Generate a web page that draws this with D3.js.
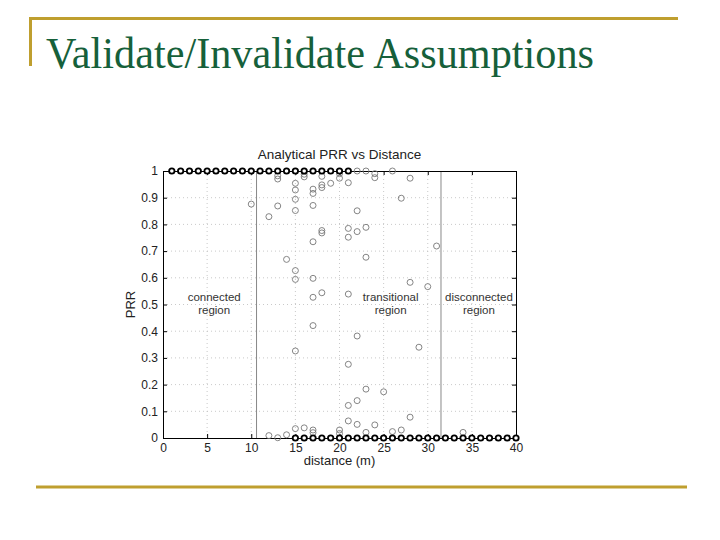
<!DOCTYPE html>
<html><head><meta charset="utf-8">
<script src="https://cdn.jsdelivr.net/npm/d3@7"></script>
<style>
html,body{margin:0;padding:0;background:#fff;}
svg{display:block;}
</style></head>
<body>
<svg id="c" width="720" height="540"></svg>
<script>
const slideTitle = "Validate/Invalidate Assumptions";
const chartTitle = "Analytical PRR vs Distance";
const xLabel = "distance (m)";
const yLabel = "PRR";
const xTicks = [0,5,10,15,20,25,30,35,40];
const yTicks = [0,0.1,0.2,0.3,0.4,0.5,0.6,0.7,0.8,0.9,1];
const regionBounds = [10.6, 31.5];
const regionLabels = [
  {x: 5.8, lines: ["connected","region"]},
  {x: 25.8, lines: ["transitional","region"]},
  {x: 35.8, lines: ["disconnected","region"]}
];
// dark markers (many overlapping nodes)
const topDist = [1,2,3,4,5,6,7,8,9,10,11,12,13,14,15,16,17,18,19,20,21];
const topPrr  = [1,1,1,1,1,1,1,1,1,1,1,1,1,1,1,1,1,1,1,1,1];
const botDist = [15,16,17,18,19,20,21,22,23,24,25,26,27,28,29,30,31,32,33,34,35,36,37,38,39,40];
const botPrr  = [0,0,0,0,0,0,0,0,0,0,0,0,0,0,0,0,0,0,0,0,0,0,0,0,0,0];
// light markers (transitional scatter)
const grayDist = [10,12,12,13,13,13,13,14,14,
  15,15,15,15,15,15,15,15,16,16,16,
  17,17,17,17,17,17,17,17,17,18,18,18,18,18,18,19,
  20,20,20,20,21,21,21,21,21,21,21,
  22,22,22,22,22,22,23,23,23,23,23,24,24,24,25,26,26,27,27,28,28,28,29,30,31,34];
const grayPrr = [0.876,0.829,0.009,0.982,0.970,0.869,0.001,0.669,0.012,
  0.954,0.929,0.894,0.852,0.627,0.594,0.326,0.035,0.988,0.978,0.038,
  0.932,0.916,0.871,0.735,0.598,0.527,0.421,0.030,0.020,0.980,0.948,0.938,0.777,0.768,0.544,0.954,
  0.990,0.973,0.030,0.017,0.956,0.785,0.752,0.539,0.276,0.122,0.064,
  1.0,0.851,0.773,0.382,0.140,0.051,1.0,0.789,0.677,0.183,0.021,0.990,0.975,0.049,0.173,1.0,0.024,0.898,0.030,0.973,0.583,0.078,0.340,0.567,0.719,0.021];

const svg = d3.select("#c");
const gold = "#bf9f2f";

// slide decoration
svg.append("line").attr("x1",29).attr("x2",678).attr("y1",18.5).attr("y2",18.5).attr("stroke",gold).attr("stroke-width",3);
svg.append("line").attr("x1",30.5).attr("x2",30.5).attr("y1",17).attr("y2",66).attr("stroke",gold).attr("stroke-width",3);
svg.append("line").attr("x1",36).attr("x2",687).attr("y1",487).attr("y2",487).attr("stroke",gold).attr("stroke-width",3);
svg.append("text").attr("x",46).attr("y",68).attr("font-family","'Liberation Serif','Times New Roman',serif")
  .attr("font-size",44).attr("fill","#16603a").attr("textLength",548).attr("lengthAdjust","spacingAndGlyphs")
  .text(slideTitle);

// chart
const L=163, R=516, T=171, B=438;
const x = d3.scaleLinear().domain([0,40]).range([L,R]);
const y = d3.scaleLinear().domain([0,1]).range([B,T]);
const g = svg.append("g");
const font = "'Liberation Sans',Arial,Helvetica,sans-serif";

// grid
g.append("g").selectAll("line").data(xTicks.slice(1,-1)).join("line")
  .attr("x1",d=>x(d)).attr("x2",d=>x(d)).attr("y1",T).attr("y2",B)
  .attr("stroke","#bbb").attr("stroke-width",0.8).attr("stroke-dasharray","1,3");
g.append("g").selectAll("line").data(yTicks.slice(1,-1)).join("line")
  .attr("x1",L).attr("x2",R).attr("y1",d=>y(d)).attr("y2",d=>y(d))
  .attr("stroke","#bbb").attr("stroke-width",0.8).attr("stroke-dasharray","1,3");

// region boundaries
g.append("g").selectAll("line").data(regionBounds).join("line")
  .attr("x1",d=>x(d)).attr("x2",d=>x(d)).attr("y1",T).attr("y2",B)
  .attr("stroke","#888").attr("stroke-width",1);

// axes
const xa = g.append("g").attr("transform",`translate(0,${B})`)
  .call(d3.axisBottom(x).tickValues(xTicks).tickSize(-4).tickPadding(5).tickFormat(d3.format("d")));
const xt = g.append("g").attr("transform",`translate(0,${T})`)
  .call(d3.axisTop(x).tickValues(xTicks).tickSize(-4).tickFormat(""));
const ya = g.append("g").attr("transform",`translate(${L},0)`)
  .call(d3.axisLeft(y).tickValues(yTicks).tickSize(-4).tickPadding(5).tickFormat(d=>d3.format("")(+d.toFixed(1))));
const yr = g.append("g").attr("transform",`translate(${R},0)`)
  .call(d3.axisRight(y).tickValues(yTicks).tickSize(-4).tickFormat(""));
[xa,xt,ya,yr].forEach(a=>{
  a.selectAll(".domain").attr("stroke","#000").attr("stroke-width",1);
  a.selectAll(".tick line").attr("stroke","#000");
  a.selectAll("text").attr("font-family",font).attr("font-size",12).attr("fill","#222");
});

// labels
g.append("text").attr("x",(L+R)/2).attr("y",159).attr("text-anchor","middle")
  .attr("font-family",font).attr("font-size",13.5).attr("fill","#222").text(chartTitle);
g.append("text").attr("x",(L+R)/2).attr("y",465).attr("text-anchor","middle")
  .attr("font-family",font).attr("font-size",13).attr("fill","#222").text(xLabel);
g.append("text").attr("transform",`translate(135,${(T+B)/2}) rotate(-90)`).attr("text-anchor","middle")
  .attr("font-family",font).attr("font-size",13).attr("fill","#222").text(yLabel);

regionLabels.forEach(r=>{
  const t = g.append("text").attr("text-anchor","middle").attr("font-family",font)
    .attr("font-size",11.5).attr("fill","#333");
  r.lines.forEach((ln,i)=>t.append("tspan").attr("x",x(r.x)).attr("y",y(0.5)-4+i*13).text(ln));
});

// gray markers
g.append("g").selectAll("circle").data(grayDist.map((d,i)=>[d,grayPrr[i]])).join("circle")
  .attr("cx",d=>x(d[0])).attr("cy",d=>y(d[1])).attr("r",3)
  .attr("fill","none").attr("stroke","#777").attr("stroke-width",0.9);

// dark markers
const dark = topDist.map((d,i)=>[d,topPrr[i]]).concat(botDist.map((d,i)=>[d,botPrr[i]]));
g.append("g").selectAll("circle").data(dark).join("circle")
  .attr("cx",d=>x(d[0])).attr("cy",d=>y(d[1])).attr("r",2.7)
  .attr("fill","#fff").attr("stroke","#000").attr("stroke-width",1.8);
</script>
</body></html>
